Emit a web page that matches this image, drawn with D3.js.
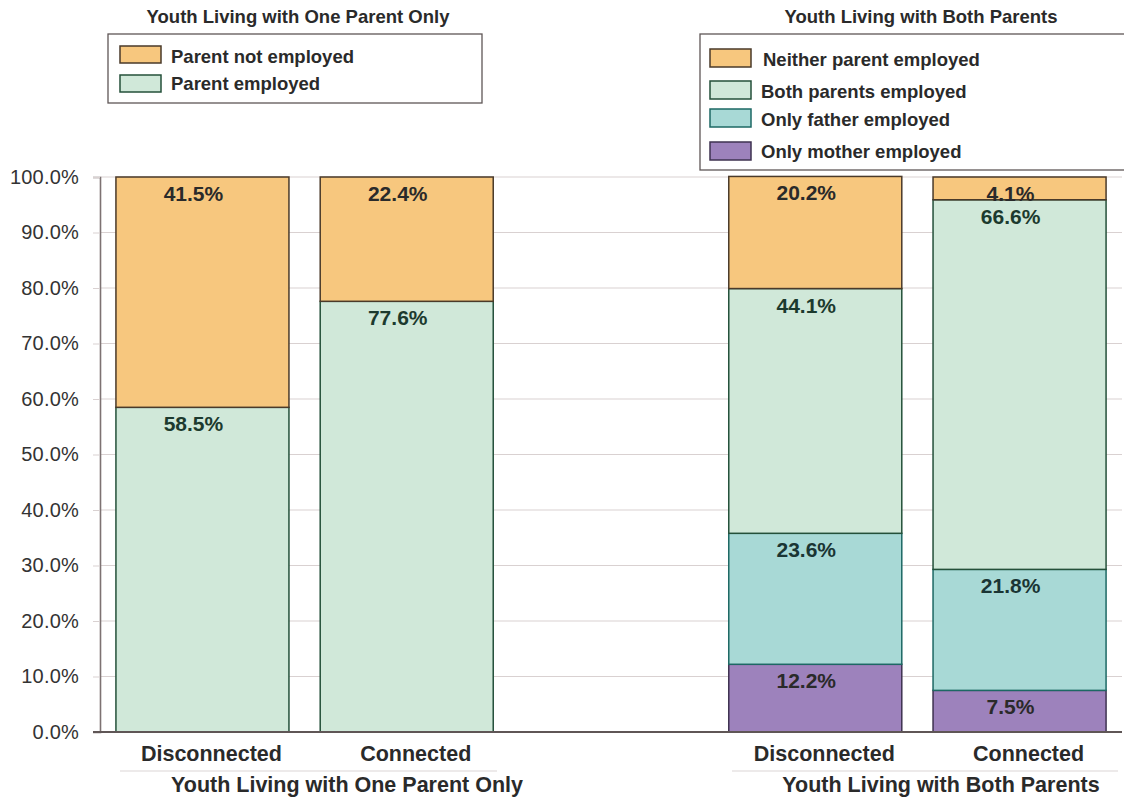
<!DOCTYPE html>
<html><head><meta charset="utf-8">
<script src="https://cdn.jsdelivr.net/npm/d3@7"></script>
<style>body{margin:0;background:#fff}svg{display:block;font-family:"Liberation Sans",Arial,Helvetica,sans-serif}</style>
</head><body><svg id="c" width="1124" height="799"></svg>
<script>
const categories = ["Disconnected", "Connected", "", "Disconnected ", "Connected "];
const groupLabels = ["Youth Living with One Parent Only", "Youth Living with Both Parents"];
const oneParentKeys = ["Parent employed", "Parent not employed"];
const oneParentEmployed = [58.5, 77.6];
const oneParentNotEmployed = [41.5, 22.4];
const bothKeys = ["Only mother employed", "Only father employed", "Both parents employed", "Neither parent employed"];
const onlyMother = [12.2, 7.5];
const onlyFather = [23.6, 21.8];
const bothEmployed = [44.1, 66.6];
const neitherEmployed = [20.2, 4.1];
const yTicks = [0, 10, 20, 30, 40, 50, 60, 70, 80, 90, 100];

const style = {
  "Parent not employed": {fill: "#F7C77E", stroke: "#4a3a2a", text: "#2a2a2a"},
  "Neither parent employed": {fill: "#F7C77E", stroke: "#4a3a2a", text: "#2a2a2a"},
  "Parent employed": {fill: "#D0E8D9", stroke: "#24503a", text: "#1c3a2e"},
  "Both parents employed": {fill: "#D0E8D9", stroke: "#24503a", text: "#1c3a2e"},
  "Only father employed": {fill: "#A8D9D6", stroke: "#1d6864", text: "#1a3534"},
  "Only mother employed": {fill: "#9D82BC", stroke: "#3e3250", text: "#2a2a2a"}
};

const svg = d3.select("#c");
const x = d3.scaleBand().domain(categories).range([100, 1122]).paddingInner(0.153).paddingOuter(0.078);
const y = d3.scaleLinear().domain([0, 100]).range([732, 177]);

// gridlines
svg.append("g").selectAll("line").data(yTicks.filter(d => d > 0)).join("line")
  .attr("x1", 100).attr("x2", 1122).attr("y1", d => y(d)).attr("y2", d => y(d))
  .attr("stroke", "#d9d1d1").attr("stroke-width", 1.2);

// y axis
const yAxis = svg.append("g").attr("transform", "translate(100,0)")
  .call(d3.axisLeft(y).tickValues(yTicks).tickFormat(d => d.toFixed(1) + "%").tickSize(7).tickPadding(14));
yAxis.select(".domain").attr("stroke", "#7d7272").attr("stroke-width", 1.6);
yAxis.selectAll(".tick line").attr("stroke", "#d9d1d1");
yAxis.selectAll("text").attr("font-size", 20).attr("fill", "#333").attr("letter-spacing", "0.2px")
  .attr("font-family", "Liberation Sans, Arial, sans-serif");

// stacks
function buildStacks(cats, keys, arrays) {
  const rows = cats.map((c, i) => { const o = {cat: c}; keys.forEach((k, j) => o[k] = arrays[j][i]); return o; });
  return d3.stack().keys(keys)(rows);
}
const s1 = buildStacks([categories[0], categories[1]], oneParentKeys, [oneParentEmployed, oneParentNotEmployed]);
const s2 = buildStacks([categories[3], categories[4]], bothKeys, [onlyMother, onlyFather, bothEmployed, neitherEmployed]);

const bars = svg.append("g");
const labels = svg.append("g");
[...s1, ...s2].forEach(layer => {
  const st = style[layer.key];
  layer.forEach(d => {
    bars.append("rect")
      .attr("x", x(d.data.cat)).attr("width", x.bandwidth())
      .attr("y", y(d[1])).attr("height", y(d[0]) - y(d[1]))
      .attr("fill", st.fill).attr("stroke", st.stroke).attr("stroke-width", 1.5);
    labels.append("text")
      .attr("x", x(d.data.cat) + x.bandwidth() / 2 - 9)
      .attr("y", y(d[1]) + 24)
      .attr("text-anchor", "middle").attr("font-size", 21).attr("font-weight", "bold")
      .attr("fill", st.text)
      .text((d[1] - d[0]).toFixed(1) + "%");
  });
});

// x baseline
svg.append("line").attr("x1", 93).attr("x2", 1122).attr("y1", 732).attr("y2", 732)
  .attr("stroke", "#5f5656").attr("stroke-width", 1.8);

// category labels
svg.append("g").selectAll("text").data(categories.filter(c => c !== "")).join("text")
  .attr("x", c => x(c) + x.bandwidth() / 2 + 9).attr("y", 761)
  .attr("text-anchor", "middle").attr("font-size", 21.5).attr("font-weight", "bold").attr("fill", "#2a2a2a")
  .text(c => c.trim());

// group labels
const groupSpans = [[120, 497, 347], [732, 1118, 941]];
groupLabels.forEach((g, i) => {
  svg.append("line").attr("x1", groupSpans[i][0]).attr("x2", groupSpans[i][1]).attr("y1", 771).attr("y2", 771)
    .attr("stroke", "#dcd6d6").attr("stroke-width", 1.2);
  svg.append("text").attr("x", groupSpans[i][2]).attr("y", 792).attr("text-anchor", "middle")
    .attr("font-size", 21.5).attr("font-weight", "bold").attr("fill", "#2a2a2a").text(g);
});

// legends
function legend(title, tx, box, items) {
  svg.append("text").attr("x", tx).attr("y", 23).attr("text-anchor", "middle")
    .attr("font-size", 18.5).attr("font-weight", "bold").attr("fill", "#2a2a2a").text(title);
  svg.append("rect").attr("x", box[0]).attr("y", box[1]).attr("width", box[2]).attr("height", box[3])
    .attr("fill", "#fff").attr("stroke", "#5f5656").attr("stroke-width", 1.3);
  items.forEach(it => {
    const st = style[it.key];
    svg.append("rect").attr("x", it.sx).attr("y", it.sy).attr("width", 41).attr("height", it.h)
      .attr("fill", st.fill).attr("stroke", st.stroke).attr("stroke-width", 1.5);
    svg.append("text").attr("x", it.tx).attr("y", it.by).attr("font-size", 18.5).attr("font-weight", "bold")
      .attr("fill", "#2a2a2a").text(it.key);
  });
}
legend(groupLabels[0], 298, [108, 34, 374, 69], [
  {key: "Parent not employed", sx: 120, sy: 46, h: 17, tx: 171, by: 63},
  {key: "Parent employed", sx: 120, sy: 75, h: 17, tx: 171, by: 90}
]);
legend(groupLabels[1], 921, [700, 34, 430, 136], [
  {key: "Neither parent employed", sx: 710, sy: 49, h: 18, tx: 763, by: 66},
  {key: "Both parents employed", sx: 710, sy: 81, h: 18, tx: 761, by: 98},
  {key: "Only father employed", sx: 710, sy: 109, h: 18, tx: 761, by: 126},
  {key: "Only mother employed", sx: 710, sy: 142, h: 18, tx: 761, by: 158}
]);
</script></body></html>
